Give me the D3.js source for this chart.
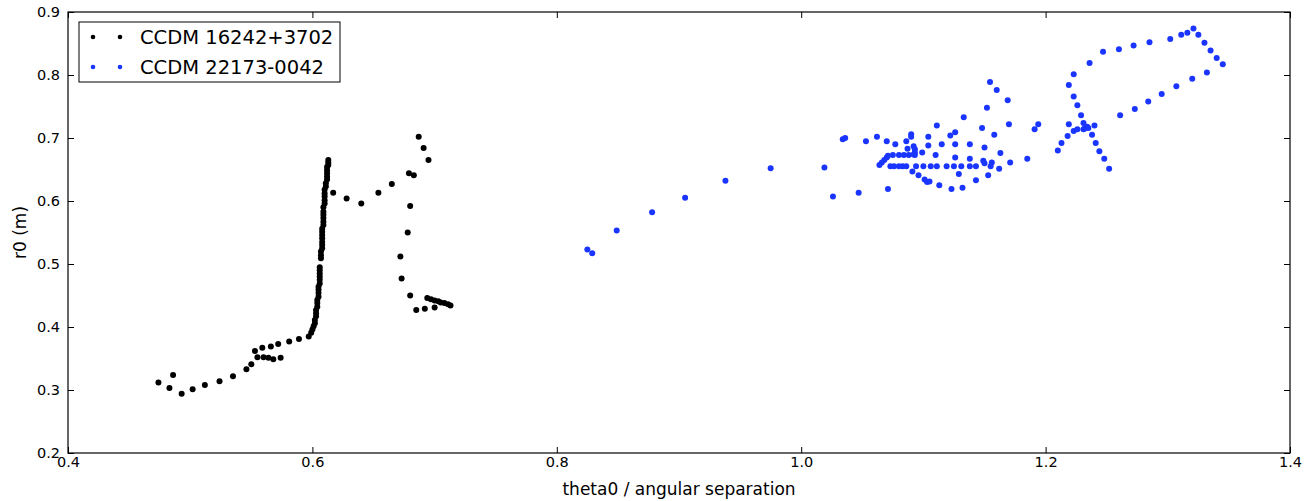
<!DOCTYPE html>
<html>
<head>
<meta charset="utf-8">
<script src="https://cdn.jsdelivr.net/npm/d3@7"></script>
<style>
  body { margin: 0; background: #fff; }
  text { font-family: "DejaVu Sans", sans-serif; fill: #000; }
</style>
</head>
<body>
<script>
// data: [theta0, r0]
var seriesNames = ['CCDM 16242+3702', 'CCDM 22173-0042'];
var seriesColors = ['#000000', '#1a35ff'];
var xTicks = [0.4, 0.6, 0.8, 1.0, 1.2, 1.4];
var yTicks = [0.2, 0.3, 0.4, 0.5, 0.6, 0.7, 0.8, 0.9];

var blackPts = [
  [0.474,0.312],[0.486,0.324],[0.483,0.303],[0.493,0.294],[0.502,0.301],[0.512,0.308],[0.524,0.314],
  [0.535,0.322],[0.546,0.333],[0.550,0.341],[0.553,0.362],[0.555,0.352],[0.559,0.367],[0.560,0.352],
  [0.564,0.351],[0.568,0.349],[0.574,0.351],[0.566,0.369],[0.572,0.373],[0.581,0.377],[0.589,0.381],
  [0.597,0.385],[0.599,0.391],[0.600,0.396],[0.601,0.401],[0.602,0.406],[0.602,0.411],[0.603,0.417],
  [0.603,0.422],[0.603,0.427],[0.604,0.432],[0.604,0.438],[0.604,0.443],[0.605,0.448],[0.605,0.454],
  [0.605,0.459],[0.605,0.464],[0.606,0.469],[0.606,0.475],[0.606,0.480],[0.606,0.485],[0.606,0.490],
  [0.606,0.495],[0.607,0.509],[0.607,0.514],[0.607,0.520],[0.608,0.525],[0.608,0.530],[0.608,0.535],
  [0.608,0.541],[0.608,0.546],[0.608,0.551],[0.608,0.556],[0.609,0.562],[0.609,0.567],[0.609,0.573],
  [0.609,0.578],[0.609,0.583],[0.609,0.590],[0.610,0.596],[0.610,0.601],[0.610,0.607],[0.610,0.612],
  [0.610,0.618],[0.611,0.623],[0.611,0.628],[0.612,0.634],[0.612,0.639],[0.612,0.644],[0.612,0.649],
  [0.612,0.654],[0.613,0.657],[0.613,0.661],[0.613,0.665],[0.617,0.613],[0.628,0.604],[0.640,0.596],
  [0.654,0.613],[0.665,0.627],[0.679,0.644],[0.683,0.641],[0.687,0.702],[0.691,0.684],[0.695,0.665],
  [0.680,0.592],[0.678,0.550],[0.672,0.512],[0.673,0.477],[0.680,0.450],[0.685,0.427],[0.692,0.429],
  [0.700,0.431],[0.694,0.446],[0.697,0.444],[0.700,0.442],[0.703,0.441],[0.705,0.439],[0.708,0.438],
  [0.711,0.436],[0.713,0.434]
];

var bluePts = [
  [0.825,0.523],[0.829,0.517],[0.849,0.553],[0.878,0.582],[0.905,0.605],[0.938,0.632],[0.975,0.652],
  [1.019,0.653],[1.026,0.607],[1.034,0.698],[1.036,0.700],[1.047,0.613],[1.053,0.695],[1.062,0.702],
  [1.070,0.695],[1.071,0.619],[1.077,0.690],[1.086,0.695],[1.090,0.706],[1.090,0.702],[1.087,0.683],
  [1.092,0.687],[1.093,0.682],[1.093,0.677],[1.093,0.673],[1.071,0.672],[1.075,0.673],[1.080,0.673],
  [1.084,0.673],[1.088,0.673],[1.092,0.674],[1.064,0.657],[1.066,0.661],[1.068,0.665],[1.070,0.669],
  [1.073,0.655],[1.076,0.655],[1.080,0.655],[1.083,0.655],[1.086,0.655],
  [1.091,0.647],[1.094,0.655],[1.096,0.641],[1.100,0.655],[1.101,0.634],[1.103,0.630],[1.105,0.631],
  [1.106,0.655],[1.111,0.655],[1.113,0.625],[1.119,0.655],[1.123,0.619],[1.125,0.655],[1.129,0.643],
  [1.131,0.655],[1.132,0.621],[1.138,0.655],[1.143,0.633],[1.143,0.655],[1.149,0.664],[1.150,0.660],
  [1.153,0.641],[1.155,0.655],[1.156,0.661],[1.162,0.651],[1.171,0.661],[1.185,0.667],
  [1.099,0.677],[1.104,0.688],[1.104,0.702],[1.110,0.673],[1.111,0.720],[1.115,0.690],[1.122,0.704],
  [1.126,0.709],[1.126,0.690],[1.126,0.669],[1.138,0.690],[1.138,0.667],[1.148,0.716],[1.150,0.685],
  [1.158,0.705],[1.163,0.676],[1.170,0.722],[1.191,0.714],[1.194,0.722],
  [1.1545,0.789],[1.160,0.776],[1.169,0.760],[1.152,0.748],[1.133,0.733],
  [1.210,0.680],[1.213,0.692],[1.218,0.703],[1.219,0.722],[1.223,0.711],[1.226,0.714],[1.231,0.714],
  [1.232,0.715],[1.234,0.718],[1.235,0.716],[1.240,0.720],[1.238,0.705],[1.241,0.692],[1.244,0.679],
  [1.248,0.667],[1.252,0.651],[1.231,0.724],[1.229,0.736],[1.226,0.752],[1.223,0.766],[1.219,0.784],
  [1.223,0.801],[1.236,0.819],[1.247,0.837],[1.260,0.841],[1.272,0.847],[1.285,0.852],[1.302,0.857],
  [1.311,0.864],[1.316,0.867],[1.321,0.874],[1.325,0.864],[1.330,0.851],[1.335,0.839],[1.340,0.827],
  [1.345,0.817],[1.332,0.804],[1.320,0.794],[1.307,0.782],[1.295,0.770],[1.284,0.758],[1.273,0.746],
  [1.261,0.736]
];

var W = 1312, H = 501;
var plot = {left: 68, right: 1290, top: 12, bottom: 453};
var tickLen = 6;

var svg = d3.select('body').append('svg')
  .attr('width', W).attr('height', H);

var x = d3.scaleLinear().domain([0.4, 1.4]).range([plot.left, plot.right]);
var y = d3.scaleLinear().domain([0.2, 0.9]).range([plot.bottom, plot.top]);

// axes, ticks pointing inward on all four sides
var fmt = d3.format('.1f');
function styleAxis(g) {
  g.select('.domain').remove();
  g.selectAll('.tick line').attr('stroke', '#000');
  g.selectAll('text').style('font-size', '14.5px').attr('fill', '#000');
}
svg.append('g').attr('transform', 'translate(0,' + plot.bottom + ')')
  .call(d3.axisBottom(x).tickValues(xTicks).tickFormat(fmt).tickSizeInner(-tickLen).tickSizeOuter(0).tickPadding(4))
  .call(styleAxis);
svg.append('g').attr('transform', 'translate(0,' + plot.top + ')')
  .call(d3.axisTop(x).tickValues(xTicks).tickFormat('').tickSizeInner(-tickLen).tickSizeOuter(0))
  .call(styleAxis);
svg.append('g').attr('transform', 'translate(' + plot.left + ',0)')
  .call(d3.axisLeft(y).tickValues(yTicks).tickFormat(fmt).tickSizeInner(-tickLen).tickSizeOuter(0).tickPadding(8))
  .call(styleAxis);
svg.append('g').attr('transform', 'translate(' + plot.right + ',0)')
  .call(d3.axisRight(y).tickValues(yTicks).tickFormat('').tickSizeInner(-tickLen).tickSizeOuter(0))
  .call(styleAxis);

// frame
svg.append('rect')
  .attr('x', plot.left).attr('y', plot.top)
  .attr('width', plot.right - plot.left).attr('height', plot.bottom - plot.top)
  .attr('fill', 'none').attr('stroke', '#000').attr('stroke-width', 1.2);

// points
var series = [blackPts, bluePts];
series.forEach(function(pts, i) {
  svg.append('g').selectAll('circle')
    .data(pts).enter().append('circle')
    .attr('cx', function(d) { return x(d[0]); })
    .attr('cy', function(d) { return y(d[1]); })
    .attr('r', 3)
    .attr('fill', seriesColors[i]);
});

// axis labels
svg.append('text')
  .attr('x', (plot.left + plot.right) / 2).attr('y', 495)
  .attr('text-anchor', 'middle').style('font-size', '17px')
  .text('theta0 / angular separation');
svg.append('text')
  .attr('transform', 'translate(26,' + ((plot.top + plot.bottom) / 2) + ') rotate(-90)')
  .attr('text-anchor', 'middle').style('font-size', '17px')
  .text('r0 (m)');

// legend
var legend = svg.append('g');
legend.append('rect')
  .attr('x', 79).attr('y', 22).attr('width', 261).attr('height', 60)
  .attr('fill', '#fff').attr('stroke', '#000').attr('stroke-width', 1);
seriesNames.forEach(function(name, i) {
  var ly = 37 + i * 30;
  [93, 120].forEach(function(lx) {
    legend.append('circle').attr('cx', lx).attr('cy', ly).attr('r', 2.3)
      .attr('fill', seriesColors[i]);
  });
  legend.append('text')
    .attr('x', 140).attr('y', ly).attr('dy', '0.35em')
    .style('font-size', '19.5px')
    .text(name);
});
</script>
</body>
</html>
